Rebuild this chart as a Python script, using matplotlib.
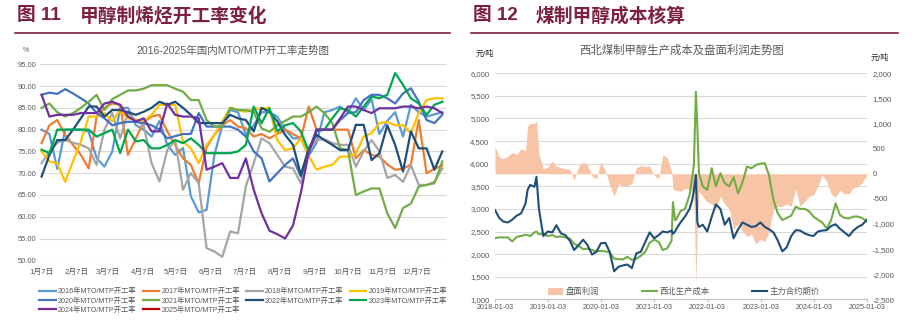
import numpy as np
import pandas as pd
import matplotlib
matplotlib.use("Agg")
import matplotlib.pyplot as plt
from matplotlib.lines import Line2D
from matplotlib.patches import Patch
from matplotlib.ticker import FuncFormatter

plt.rcParams["font.family"] = ["Liberation Sans", "Noto Sans CJK SC", "DejaVu Sans"]

# ---------- 图11: MTO/MTP weekly run rate (%), week 0 = Jan 7 ----------
YEARS = ["2016", "2017", "2018", "2019", "2020", "2021", "2022", "2023", "2024", "2025"]
RATE_2016 = [80, 79, 71, 80, 80, 80, 79.5, 73.5, 71.5, 75, 85, 85, 81, 80, 78.4, 82, 76.5, 74.2,
             75.8, 64.7, 61, 61.6, 74.2, 81, 84.5, 84, 78.8, 81, 84, 84, 83, 80, 78, 78, 74, 77,
             84, 84.5, 85.3, 84, 87.2, 84.5, 87, 79, 82, 84, 78.4, 85.7, 84, 83, 83.5, 84]
RATE_2017 = [76.9, 81, 82.2, 78.8, 76.5, 74.2, 71.1, 83, 85, 86, 85.7, 74.2, 78, 81.8, 83, 83.4,
             79.6, 76.5, 73.4, 71.9, 67.7, 76, 78.8, 81, 82.2, 80.7, 80.3, 78.4, 79, 78, 79, 80,
             79, 78, 85.3, 80, 80, 80, 80, 80, 73.4, 75.3, 74.2, 73.8, 72, 70.8, 71, 72, 82.2,
             70, 71, 71.8]
RATE_2018 = [72.3, 75, 77, 77.6, 77, 76.5, 75.7, 71.9, 80, 83.8, 78, 84, 82, 81, 72.3, 68.1, 75.3,
             77.6, 66.2, 70, 67.7, 52.8, 52, 50.8, 56.6, 56.2, 67, 72.3, 78, 76.9, 74.2, 71.5,
             71.1, 67.7, 75.3, 77.6, 77.8, 76.9, 76.5, 76.5, 71.5, 75, 77.6, 75, 68.9, 69.6, 68,
             71.9, 67.3, 67.3, 68, 71.1]
RATE_2019 = [75, 72.7, 72.3, 68, 72.7, 77.3, 83, 83, 83.8, 81.9, 84.5, 82.6, 82.3, 82, 83.4, 85.7,
             85.7, 85.7, 77.3, 75.7, 72.3, 76.5, 78.8, 81.9, 85, 84.5, 84.1, 84.8, 84.8, 85, 77.6,
             75.3, 75.7, 78, 74, 70.8, 71.5, 71.9, 73.8, 73.8, 74.5, 78.4, 79.2, 81.5, 81.8, 81,
             81, 79.2, 83.8, 86.8, 87.2, 87.2]
RATE_2020 = [88, 88.5, 88.2, 89.3, 88.3, 87.2, 86, 83.8, 82.6, 81, 81.5, 81.8, 81.8, 81.5, 81, 80,
             78, 78.5, 79, 79, 83.8, 80.7, 80.7, 80.7, 80.7, 80, 78.4, 75, 73.4, 68.1, 70, 71.9,
             73.4, 69.2, 75, 79.6, 80, 80, 82.2, 83.8, 84, 86.8, 88, 88, 87.2, 86, 88.3, 89.5,
             86.4, 82.2, 81.5, 83.4]
RATE_2021 = [85, 86, 84, 83, 83.8, 85, 86.4, 88, 84.5, 87, 88, 89, 89, 89.4, 90.2, 90.2, 90.2,
             89.4, 88.7, 86.8, 86.8, 82.2, 80.7, 80.7, 85, 84.5, 84.5, 84, 80.3, 79.5, 81, 82, 83,
             83, 84, 85.3, 83.8, 81.5, 75.7, 75.3, 65, 65.8, 66.5, 66.5, 60.8, 57.4, 62, 63, 66.9,
             67.3, 67.7, 72.7]
RATE_2022 = [69.2, 74.2, 77.6, 77.6, 80, 82.6, 85.3, 85.3, 83, 84.5, 84.5, 84, 83.4, 84.1, 85,
             86.4, 85.7, 86.4, 85, 83.4, 81.5, 81.5, 81.5, 81.5, 83.4, 82.6, 82.2, 79.6, 85, 84.1,
             81.9, 78.8, 76.5, 69.6, 75.7, 78.8, 77.6, 76.5, 75.3, 75.3, 81.1, 81.1, 73, 74.6,
             81, 76.5, 70.4, 79.6, 75.7, 75.7, 70.8, 75]
RATE_2023 = [75.4, 74.6, 80, 80, 80, 80, 80, 78.4, 79.2, 80, 74.6, 80, 77.3, 77.6, 75.7, 75.7,
             76.5, 77.6, 76.9, 78, 76.5, 74.6, 74.6, 74.6, 74.6, 75, 76.5, 85.3, 81.5, 84.9, 79.6,
             81, 81.5, 79.6, 75, 80, 80, 82.6, 84.9, 84.5, 83, 85.3, 87.6, 87.2, 88, 93, 90.3,
             87.2, 86, 83.4, 85.7, 86.4]
RATE_2024 = [88, 83, 83.4, 83.4, 83.4, 83.8, 83.8, 83.8, 86, 86.4, 85.7, 83, 81.9, 82.6, 79.6,
             79.6, 86, 83.4, 83, 83, 82.6, 70.8, 71.5, 72.3, 68.9, 68.9, 73.4, 66.2, 60.8, 56.8,
             56, 55, 58, 65.5, 74.8, 80, 80, 80, 82.6, 85.3, 85.3, 84.5, 83.8, 84.9, 84.9, 84.9,
             85.3, 85.3, 84.9, 85.3, 84.9, 83.8]
RATE_2025 = []
RATES = [RATE_2016, RATE_2017, RATE_2018, RATE_2019, RATE_2020,
         RATE_2021, RATE_2022, RATE_2023, RATE_2024, RATE_2025]
MONTH_LABELS = ["1月7日", "2月7日", "3月7日", "4月7日", "5月7日", "6月7日",
                "7月7日", "8月7日", "9月7日", "10月7日", "11月7日", "12月7日"]

# ---------- 图12: 西北煤制甲醇 cost / futures (元/吨) and paper profit ----------
DATES = [
    "2018-01-03", "2018-02-01", "2018-03-01", "2018-04-01", "2018-05-01", "2018-06-01",
    "2018-07-01", "2018-08-01", "2018-08-15", "2018-09-01", "2018-10-01", "2018-10-15",
    "2018-11-01", "2018-12-01",
    "2019-01-01", "2019-02-01", "2019-03-01", "2019-04-01", "2019-05-01", "2019-06-01",
    "2019-07-01", "2019-08-01", "2019-09-01", "2019-10-01", "2019-11-01", "2019-12-01",
    "2020-01-01", "2020-02-01", "2020-03-01", "2020-04-01", "2020-05-01", "2020-06-01",
    "2020-07-01", "2020-08-01", "2020-09-01", "2020-10-01", "2020-11-01", "2020-12-01",
    "2021-01-01", "2021-02-01", "2021-03-01", "2021-04-01", "2021-05-01", "2021-05-10",
    "2021-05-25", "2021-06-01", "2021-07-01", "2021-08-01", "2021-09-01", "2021-09-20",
    "2021-10-01", "2021-10-15", "2021-10-25", "2021-11-05", "2021-12-01",
    "2022-01-01", "2022-02-01", "2022-03-01", "2022-04-01", "2022-05-01", "2022-06-01",
    "2022-07-01", "2022-08-01", "2022-09-01", "2022-10-01", "2022-11-01", "2022-12-01",
    "2023-01-01", "2023-02-01", "2023-03-01", "2023-04-01", "2023-05-01", "2023-06-01",
    "2023-07-01", "2023-08-01", "2023-09-01", "2023-10-01", "2023-11-01", "2023-12-01",
    "2024-01-01", "2024-02-01", "2024-03-01", "2024-04-01", "2024-05-01", "2024-06-01",
    "2024-07-01", "2024-08-01", "2024-09-01", "2024-10-01", "2024-11-01", "2024-12-01",
    "2025-01-03",
]
PROFIT = [
    550, 330, 300, 350, 430, 380, 500, 450, 950, 1000, 1000, 1050, 400, 100,
    130, 250, 150, 120, 100, 90, -130, 150, 230, 180, -50, -100,
    230, 60, -220, -450, -200, -250, -230, -200, 120, 160, 140, 160,
    -30, -100, 380, 320, 50, -300, -330, -330, -350, -300, -300, -350, -400, -2190, -900,
    -350, -450,
    -560, -600, -700, -450, -600, -700, -1100, -1000, -1150, -1250, -1200, -1400,
    -1300, -1350, -1150, -700, -650, -650, -600, -650, -300, -650, -550, -450,
    -420, -250, -30, -150, -400, -470, -330, -400, -400, -280, -250, -180,
    -20,
]
COST = [
    2350, 2370, 2370, 2370, 2280, 2380, 2400, 2430, 2420, 2400, 2480, 2500, 2440, 2450,
    2400, 2420, 2380, 2390, 2370, 2340, 2230, 2180, 2110, 2120, 2090, 2060,
    2070, 2060, 2040, 1900, 1890, 1880, 1940, 1870, 1900, 1960, 2050, 2250,
    2320, 2270, 2090, 2130, 2300, 3150, 2750, 2760, 2950, 3000, 3300, 3700, 3970, 5590, 4800,
    3790, 3500,
    3420, 3900, 3500, 3790, 3570, 3500, 3700, 3345, 3600, 3935, 3900, 3970,
    4000, 4010, 3750, 3200, 2900, 2755, 2800, 2850, 3050, 3000, 3000, 2950,
    2830, 2760, 2700, 2570, 2750, 3120, 2865, 2800, 2790, 2830, 2830, 2800,
    2720,
]
FUTURES = [
    2975, 2800, 2720, 2700, 2760, 2850, 2900, 3120, 3420, 3530, 3490, 3710, 3000, 2400,
    2500, 2480, 2640, 2460, 2420, 2300, 2090, 2200, 2320, 2200, 1990, 2050,
    2240, 2250, 2050, 1620, 1720, 1750, 1770, 1690, 2020, 2050, 2270, 2480,
    2350, 2420, 2500, 2480, 2520, 2450, 2500, 2550, 2700, 2830, 3000, 3200, 3400, 3750, 2700,
    2600, 2650,
    2500, 2830, 3100, 3000, 2650, 2800, 2350, 2550, 2700, 2650, 2600, 2620,
    2700, 2600, 2550, 2480, 2300, 2060, 2150, 2400, 2530, 2520, 2460, 2420,
    2400, 2500, 2520, 2530, 2620, 2660, 2560, 2480, 2400, 2520, 2600, 2650,
    2760,
]
YEAR_TICKS = ["2018-01-03", "2019-01-03", "2020-01-03", "2021-01-03",
              "2022-01-03", "2023-01-03", "2024-01-03", "2025-01-03"]

W, H = 913, 322
MAROON = "#7D1F3F"
GRAY_TXT = "#595959"
GRID = "#D9D9D9"
YEAR_COLORS = ["#5B9BD5", "#ED7D31", "#A5A5A5", "#FFC000", "#4472C4",
               "#70AD47", "#1F4E79", "#00A650", "#7030A0", "#C00000"]
PEACH = "#F7C4A5"
COST_GREEN = "#70AD47"
FUT_NAVY = "#1F4E79"


def fx(px):
    return px / W


def fy(py):
    return 1 - py / H


def header(fig, x0, x1, num, title):
    fig.text(fx(x0 + 2), fy(16), num, fontsize=13.5, fontweight="bold",
             color=MAROON, va="center", ha="left")
    fig.text(fx(x0 + 65), fy(16), title, fontsize=13.5, fontweight="bold",
             color=MAROON, va="center", ha="left")
    fig.add_artist(Line2D([fx(x0), fx(x1)], [fy(33), fy(33)], color=MAROON, lw=1.2))


def draw_rates(fig):
    ax = fig.add_axes([fx(40), fy(260.3), fx(407), 196 / H])
    for i, (year, vals, color) in enumerate(zip(YEARS, RATES, YEAR_COLORS)):
        ax.plot(np.arange(len(vals)), vals, color=color, lw=1.6, zorder=2 + i,
                label=f"{year}年MTO/MTP开工率", solid_joinstyle="round")

    week0 = pd.Timestamp("2019-01-07")
    month_pos = [(pd.Timestamp(2019, m, 7) - week0).days / 7 for m in range(1, 13)]
    ax.set_xticks(month_pos)
    ax.set_xticklabels(MONTH_LABELS)
    ax.set_xlim(-0.2, 51.6)
    ax.set_ylim(50, 95)
    ax.set_yticks(np.arange(50, 96, 5))
    ax.yaxis.set_major_formatter(FuncFormatter(lambda v, _: f"{v:.2f}"))
    ax.yaxis.grid(True, color=GRID, lw=0.8)
    ax.set_axisbelow(True)
    for s in ax.spines.values():
        s.set_visible(False)
    ax.tick_params(axis="y", length=0, pad=2.5, labelsize=5.4, labelcolor=GRAY_TXT)
    ax.tick_params(axis="x", length=0, pad=6, labelsize=5.6, labelcolor=GRAY_TXT)

    fig.text(fx(233), fy(51), "2016-2025年国内MTO/MTP开工率走势图", fontsize=7.6,
             color=GRAY_TXT, ha="center", va="center")
    fig.text(fx(26), fy(50), "%", fontsize=5, color=GRAY_TXT, ha="center", va="center")

    # legend rows read 2016-2019 / 2020-2023 / 2024-2025
    handles, labels = ax.get_legend_handles_labels()
    order = [0, 4, 8, 1, 5, 9, 2, 6, 3, 7]
    fig.legend([handles[i] for i in order], [labels[i] for i in order],
               loc="upper left", bbox_to_anchor=(fx(39), fy(288)), ncol=4,
               frameon=False, fontsize=5.2, labelcolor=GRAY_TXT, handlelength=2.3,
               handletextpad=0.3, columnspacing=0.85, labelspacing=0.22,
               borderpad=0, borderaxespad=0)


def draw_cost(fig):
    dates = pd.to_datetime(DATES)
    ticks = pd.to_datetime(YEAR_TICKS)

    rect = [fx(495), fy(299.3), fx(372), 226 / H]
    ax = fig.add_axes(rect)          # left scale + grid
    ax_p = ax.twinx()                # right scale, profit area
    ax_l = ax.twinx()                # left scale, price lines on top

    ax_p.fill_between(dates, PROFIT, 0, color=PEACH, lw=0)
    ax_l.plot(dates, COST, color=COST_GREEN, lw=1.5)
    ax_l.plot(dates, FUTURES, color=FUT_NAVY, lw=1.5)

    for a in (ax, ax_l):
        a.set_ylim(1000, 6000)
    ax_p.set_ylim(-2500, 2000)
    ax.set_xlim(ticks[0], ticks[-1])
    ax.set_yticks(np.arange(1000, 6001, 500))
    ax_p.set_yticks(np.arange(-2500, 2001, 500))
    fmt = FuncFormatter(lambda v, _: f"{v:,.0f}")
    ax.yaxis.set_major_formatter(fmt)
    ax_p.yaxis.set_major_formatter(fmt)
    ax.set_xticks(ticks)
    ax.set_xticklabels([t.strftime("%Y-%m-%d") for t in ticks])

    ax.yaxis.grid(True, color=GRID, lw=0.8)
    for a in (ax, ax_p, ax_l):
        for s in a.spines.values():
            s.set_visible(False)
    ax.spines["bottom"].set_visible(True)
    ax.spines["bottom"].set_color("#BFBFBF")
    ax.spines["bottom"].set_linewidth(0.8)
    ax.tick_params(axis="y", length=0, pad=4, labelsize=5.6, labelcolor=GRAY_TXT)
    ax_p.tick_params(axis="y", length=0, pad=4, labelsize=5.6, labelcolor=GRAY_TXT)
    ax.tick_params(axis="x", length=2.5, width=0.8, color="#BFBFBF", pad=1,
                   labelsize=5.2, labelcolor=GRAY_TXT)
    ax_l.yaxis.set_visible(False)

    fig.text(fx(682), fy(50), "西北煤制甲醇生产成本及盘面利润走势图", fontsize=8.2,
             color=GRAY_TXT, ha="center", va="center")
    fig.text(fx(485), fy(54), "元/吨", fontsize=5.8, color="#262626",
             ha="center", va="center")
    fig.text(fx(880), fy(58), "元/吨", fontsize=5.8, color="#262626",
             ha="center", va="center")

    handles = [Patch(facecolor=PEACH, edgecolor="none"),
               Line2D([], [], color=COST_GREEN, lw=1.5),
               Line2D([], [], color=FUT_NAVY, lw=1.5)]
    fig.legend(handles, ["盘面利润", "西北生产成本", "主力合约期价"],
               loc="center left", bbox_to_anchor=(fx(548), fy(292)), ncol=3,
               frameon=False, fontsize=6, labelcolor=GRAY_TXT, handlelength=1.8,
               handleheight=0.8, handletextpad=0.3, columnspacing=5.1,
               borderpad=0, borderaxespad=0)


def main():
    fig = plt.figure(figsize=(W / 100, H / 100), dpi=100)
    header(fig, 15, 450, "图 11", "甲醇制烯烃开工率变化")
    header(fig, 471, 898, "图 12", "煤制甲醇成本核算")
    draw_rates(fig)
    draw_cost(fig)
    fig.savefig("out.png", dpi=100)
    plt.close(fig)


if __name__ == "__main__":
    main()
